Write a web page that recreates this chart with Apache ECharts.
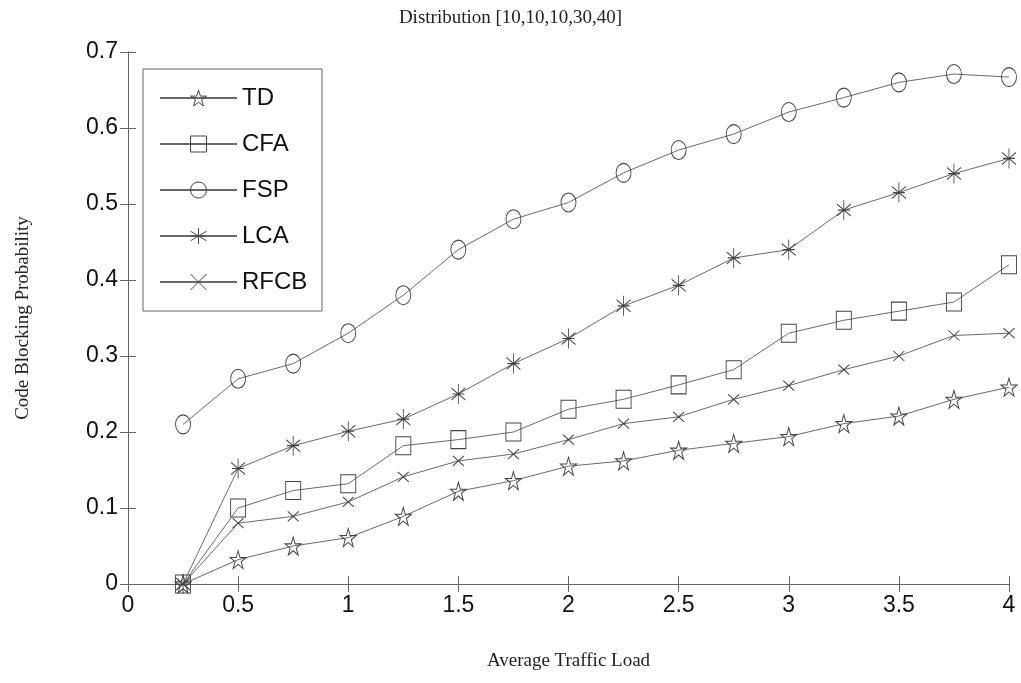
<!DOCTYPE html>
<html><head><meta charset="utf-8">
<script src="https://cdn.jsdelivr.net/npm/echarts@6/dist/echarts.min.js"></script>
<style>html,body{margin:0;padding:0;background:#fff}#c{width:1021px;height:683px}</style>
</head><body><div id="c"></div>
<script>
const xLoads = [0.25,0.5,0.75,1,1.25,1.5,1.75,2,2.25,2.5,2.75,3,3.25,3.5,3.75,4];
const TD   = [0,0.032,0.050,0.061,0.089,0.122,0.136,0.155,0.162,0.176,0.185,0.194,0.211,0.221,0.243,0.259];
const CFA  = [0,0.100,0.123,0.132,0.182,0.190,0.200,0.230,0.243,0.262,0.282,0.330,0.347,0.359,0.371,0.420];
const FSP  = [0.210,0.270,0.290,0.330,0.380,0.440,0.480,0.502,0.541,0.571,0.592,0.621,0.640,0.660,0.671,0.667];
const LCA  = [0,0.152,0.182,0.201,0.217,0.250,0.290,0.323,0.366,0.393,0.429,0.440,0.492,0.515,0.540,0.560];
const RFCB = [0,0.080,0.089,0.108,0.141,0.162,0.171,0.190,0.211,0.220,0.243,0.261,0.282,0.300,0.327,0.330];
const xTicks = ['0','0.5','1','1.5','2','2.5','3','3.5','4'];
const yTicks = ['0','0.1','0.2','0.3','0.4','0.5','0.6','0.7'];
const seriesNames = ['TD','CFA','FSP','LCA','RFCB'];

const narrow = '"Liberation Sans Narrow","Arial Narrow","Liberation Sans",sans-serif';
const serif = '"Liberation Serif","DejaVu Serif",serif';
const star = 'path://M0,-100L22.45,-30.9L95.1,-30.9L36.3,11.8L58.8,80.9L0,38.2L-58.8,80.9L-36.3,11.8L-95.1,-30.9L-22.45,-30.9Z';
const aster = 'path://M0,-10L0,10M-7,-6L7,6M-7,6L7,-6M-6,0L6,0';
const xmark = 'path://M-5,-5L5,5M-5,5L5,-5';
const symbols = [star,'rect','circle',aster,xmark];
const sizes = [[16,18],[15,18],[15,19],[14,20],[11,10]];
const dataArr = [TD,CFA,FSP,LCA,RFCB];

const series = seriesNames.map((n,i)=>({
  name:n, type:'line',
  data: xLoads.map((x,j)=>[x,dataArr[i][j]]),
  symbol: symbols[i], symbolSize: sizes[i], showAllSymbol:true,
  color:'#555',
  lineStyle:{color:'#6a6a6a',width:1},
  itemStyle:{color:'rgba(0,0,0,0)',borderColor:'#444',borderWidth:1},
  emphasis:{disabled:true}, animation:false, z: 3
}));

const chart = echarts.init(document.getElementById('c'));
chart.setOption({
  backgroundColor:'#fff',
  animation:false,
  title:{text:'Distribution [10,10,10,30,40]',left:'center',top:4,
    textStyle:{fontFamily:serif,fontSize:19,fontWeight:'normal',color:'#222'}},
  grid:{left:128,right:12,top:52,bottom:99},
  graphic:[{type:'rect',shape:{x:143,y:69,width:179,height:242},
    style:{fill:'#fff',stroke:'#666',lineWidth:1},z:5}],
  legend:{orient:'vertical',left:159,top:86,padding:0,itemWidth:77,itemHeight:20,itemGap:22,
    itemStyle:{color:'rgba(0,0,0,0)',borderColor:'#444',borderWidth:1},
    textStyle:{fontFamily:narrow,fontSize:24,color:'#111',lineHeight:20},z:10,
    data:seriesNames},
  xAxis:[{type:'value',min:0,max:4,interval:0.5,position:'bottom',
    name:'Average Traffic Load',nameLocation:'middle',nameGap:68,
    nameTextStyle:{fontFamily:serif,fontSize:19,color:'#222'},
    axisLine:{lineStyle:{color:'#666'}},
    axisTick:{inside:true,length:8,lineStyle:{color:'#666'}},
    axisLabel:{fontFamily:narrow,fontSize:23,color:'#111',margin:10,
      formatter:(v)=>xTicks[Math.round(v/0.5)]},
    splitLine:{show:false}},
   {type:'value',min:0,max:4,interval:0.5,position:'top',
    axisLine:{lineStyle:{color:'#666'}},
    axisTick:{inside:true,length:8,lineStyle:{color:'#666'}},
    axisLabel:{show:false},splitLine:{show:false}}],
  yAxis:[{type:'value',min:0,max:0.7,interval:0.1,position:'left',
    name:'Code Blocking Probability',nameLocation:'middle',nameGap:95,
    nameTextStyle:{fontFamily:serif,fontSize:19,color:'#222'},
    axisLine:{show:true,lineStyle:{color:'#666'}},
    axisTick:{show:true,inside:true,length:8,lineStyle:{color:'#666'}},
    axisLabel:{fontFamily:narrow,fontSize:23,color:'#111',margin:10,
      formatter:(v)=>yTicks[Math.round(v*10)]},
    splitLine:{show:false}},
   {type:'value',min:0,max:0.7,interval:0.1,position:'right',
    axisLine:{show:true,lineStyle:{color:'#666'}},
    axisTick:{show:true,inside:true,length:8,lineStyle:{color:'#666'}},
    axisLabel:{show:false},splitLine:{show:false}}],
  series: series
});
</script></body></html>
